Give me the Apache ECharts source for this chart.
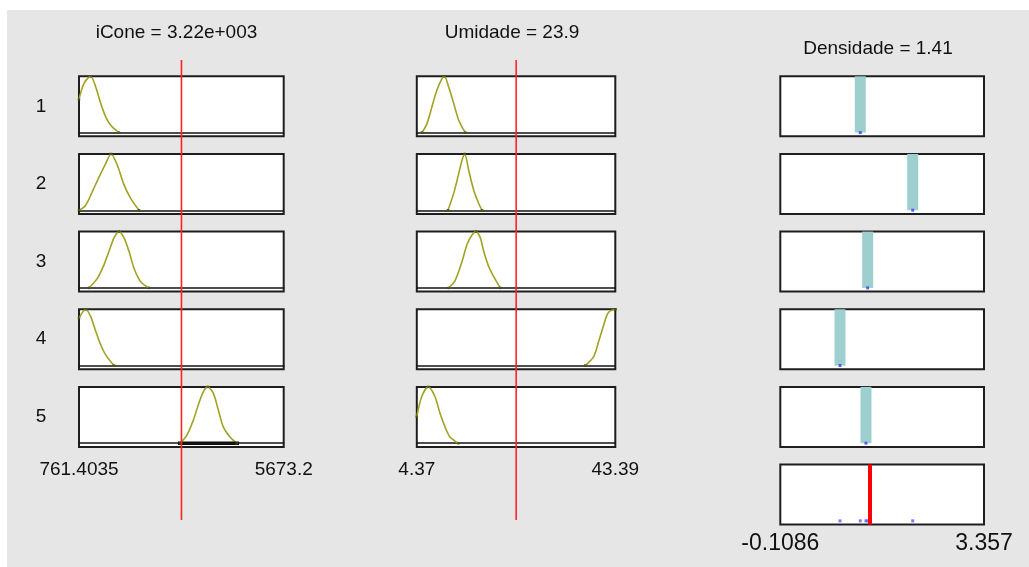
<!DOCTYPE html>
<html>
<head>
<meta charset="utf-8">
<script src="https://cdn.jsdelivr.net/npm/echarts@6/dist/echarts.min.js"></script>
<style>
  html, body { margin: 0; padding: 0; background: #ffffff; width: 1029px; height: 567px; overflow: hidden; }
  #panel { position: absolute; left: 7px; top: 10px; width: 1022px; height: 557px; background: #e6e6e6; }
  #chart { position: absolute; left: 0; top: 0; width: 1029px; height: 567px; }
</style>
</head>
<body>
<div id="panel"></div>
<div id="chart"></div>
<script>
// ---- Fuzzy inference system: inputs iCone, Umidade; output Densidade ----
const iConeRange = [761.4035, 5673.2];
const umidadeRange = [4.37, 43.39];
const densidadeRange = [-0.1086, 3.357];

const iConeTickLabels = ['761.4035', '5673.2'];
const umidadeTickLabels = ['4.37', '43.39'];
const densidadeTickLabels = ['-0.1086', '3.357'];

// current crisp values
const iConeInput = 3220;
const umidadeInput = 23.9;
const densidadeOutput = 1.41;

const iConeTitle = 'iCone = 3.22e+003';
const umidadeTitle = 'Umidade = 23.9';
const densidadeTitle = 'Densidade = 1.41';

const ruleNames = ['1', '2', '3', '4', '5'];

// membership curves of iCone for rules 1..5  ([x, degree])
const iConeRule1 = [[761.4, 0.59], [881, 0.875], [1042, 1.0], [1162, 0.81], [1282, 0.52], [1402, 0.28], [1522, 0.13], [1721, 0.0]];
const iConeRule2 = [[761.4, 0.0], [922, 0.09], [1081, 0.33], [1242, 0.59], [1402, 0.83], [1530, 1.0], [1681, 0.80], [1842, 0.45], [2002, 0.21], [2201, 0.0]];
const iConeRule3 = [[1001, 0.0], [1201, 0.17], [1361, 0.41], [1481, 0.65], [1601, 0.89], [1721, 1.0], [1841, 0.89], [1961, 0.65], [2081, 0.35], [2242, 0.11], [2441, 0.0]];
const iConeRule4 = [[761.4, 0.84], [922, 1.0], [1042, 0.87], [1162, 0.61], [1282, 0.37], [1402, 0.19], [1601, 0.0]];
const iConeRule5 = [[3185, 0.0], [3346, 0.14], [3505, 0.41], [3624, 0.68], [3744, 0.91], [3850, 1.0], [3984, 0.89], [4104, 0.59], [4224, 0.29], [4385, 0.11], [4546, 0.0]];
// support of the rule-5 iCone set that is active at the current input
const iConeRule5Fired = [3137, 4601];

// membership curves of Umidade for rules 1..5
const umidadeRule1 = [[5.39, 0.0], [6.37, 0.16], [7.35, 0.46], [8.33, 0.755], [9.31, 0.96], [9.78, 1.0], [10.64, 0.81], [11.62, 0.52], [12.61, 0.22], [13.90, 0.0]];
const umidadeRule2 = [[10.50, 0.0], [11.62, 0.30], [12.61, 0.65], [13.26, 0.89], [13.79, 1.0], [14.57, 0.71], [15.55, 0.36], [16.54, 0.12], [17.19, 0.0]];
const umidadeRule3 = [[10.64, 0.0], [11.94, 0.14], [13.26, 0.47], [14.24, 0.77], [15.22, 0.94], [16.00, 1.0], [16.85, 0.89], [17.52, 0.65], [18.50, 0.38], [19.49, 0.20], [20.78, 0.0]];
const umidadeRule4 = [[37.49, 0.0], [39.14, 0.16], [40.13, 0.43], [41.11, 0.72], [41.76, 0.90], [42.41, 0.97], [43.39, 1.0]];
const umidadeRule5 = [[4.37, 0.47], [5.33, 0.825], [6.63, 1.0], [7.95, 0.825], [8.93, 0.53], [9.91, 0.29], [10.90, 0.11], [12.53, 0.0]];

// singleton outputs of rules 1..5 and their heights
const densidadeRuleOut = [1.252, 2.144, 1.378, 0.907, 1.349];
const densidadeRuleHeight = [1, 1, 1, 1, 1];

const iConeCurves = [iConeRule1, iConeRule2, iConeRule3, iConeRule4, iConeRule5];
const umidadeCurves = [umidadeRule1, umidadeRule2, umidadeRule3, umidadeRule4, umidadeRule5];

// ---- layout ----
const FONT = "'Liberation Sans', Arial, sans-serif";
const rowTop0 = 76.3, rowStep = 77.65, boxH = 60;
const Y_MIN = -0.0657;           // leaves a thin strip below the zero line
const cols = [
  { left: 79, width: 204.7 },
  { left: 416.8, width: 198.5 },
  { left: 780.3, width: 203.7 }
];
const CURVE = '#a2a222';
const CURVE_DOT = '#4a4a08';
const BAR = '#9dcfcf';

const grids = [], xAxes = [], yAxes = [], series = [];

function addGrid(g) { grids.push(Object.assign({ outerBoundsMode: 'none', containLabel: false }, g)); return grids.length - 1; }

function boxGrid(col, row) {
  return addGrid({
    left: cols[col].left, width: cols[col].width,
    top: rowTop0 + row * rowStep, height: boxH,
    show: true, backgroundColor: '#ffffff', borderColor: '#1e1e1e', borderWidth: 2
  });
}

function rangeLabel(range, labels, size, margin) {
  return {
    show: true, showMinLabel: true, showMaxLabel: true, margin: margin,
    fontSize: size, fontFamily: FONT, color: '#111111',
    formatter: function (v) {
      const eps = (range[1] - range[0]) * 1e-9;
      if (Math.abs(v - range[0]) < eps) return labels[0];
      if (Math.abs(v - range[1]) < eps) return labels[1];
      return '';
    }
  };
}

function inputColumn(col, range, labels, curves) {
  curves.forEach(function (curve, r) {
    const gi = boxGrid(col, r);
    xAxes.push({
      gridIndex: gi, type: 'value', min: range[0], max: range[1],
      axisLine: { show: true, onZero: true, lineStyle: { color: '#151515', width: 1.5 } },
      axisTick: { show: false }, splitLine: { show: false },
      axisLabel: r === curves.length - 1 ? rangeLabel(range, labels, 19, 13) : { show: false }
    });
    yAxes.push({ gridIndex: gi, type: 'value', min: Y_MIN, max: 1, show: false, splitLine: { show: false } });
    const ai = xAxes.length - 1;
    series.push({
      type: 'line', xAxisIndex: ai, yAxisIndex: ai, data: curve,
      showSymbol: false, smooth: 0.3, silent: true,
      lineStyle: { color: CURVE, width: 1.6 }, z: 3
    });
    // defining points of the set: both ends and the peak
    let peak = curve[0];
    curve.forEach(function (p) { if (p[1] > peak[1]) peak = p; });
    series.push({
      type: 'scatter', xAxisIndex: ai, yAxisIndex: ai, silent: true,
      data: [curve[0], peak, curve[curve.length - 1]],
      symbol: 'rect', symbolSize: 2.5, itemStyle: { color: CURVE_DOT }, z: 4
    });
    if (col === 0 && r === 4) {
      series.push({
        type: 'line', xAxisIndex: ai, yAxisIndex: ai, silent: true, showSymbol: false,
        data: [[iConeRule5Fired[0], 0], [iConeRule5Fired[1], 0]],
        lineStyle: { color: '#111111', width: 3.5, cap: 'butt' }, z: 3
      });
    }
  });
}

inputColumn(0, iConeRange, iConeTickLabels, iConeCurves);
inputColumn(1, umidadeRange, umidadeTickLabels, umidadeCurves);

// output column: one box per rule plus the aggregated result
for (let r = 0; r <= densidadeRuleOut.length; r++) {
  const gi = boxGrid(2, r);
  const last = r === densidadeRuleOut.length;
  xAxes.push({
    gridIndex: gi, type: 'value', min: densidadeRange[0], max: densidadeRange[1],
    axisLine: { show: false, onZero: false }, axisTick: { show: false }, splitLine: { show: false },
    axisLabel: last ? rangeLabel(densidadeRange, densidadeTickLabels, 23, 8) : { show: false }
  });
  yAxes.push({ gridIndex: gi, type: 'value', min: Y_MIN, max: 1, show: false, splitLine: { show: false } });
  const ai = xAxes.length - 1;
  if (!last) {
    series.push({
      type: 'bar', xAxisIndex: ai, yAxisIndex: ai, silent: true,
      data: [[densidadeRuleOut[r], densidadeRuleHeight[r]]],
      barWidth: 11, itemStyle: { color: BAR }, z: 2
    });
    series.push({
      type: 'scatter', xAxisIndex: ai, yAxisIndex: ai, silent: true,
      data: [[densidadeRuleOut[r], 0]], symbol: 'rect', symbolSize: 3,
      itemStyle: { color: '#3b3bff' }, z: 4
    });
  } else {
    series.push({
      type: 'scatter', xAxisIndex: ai, yAxisIndex: ai, silent: true,
      data: densidadeRuleOut.map(function (v) { return [v, 0]; }),
      symbol: 'rect', symbolSize: 3, itemStyle: { color: '#5a5aff' }, z: 4,
      markLine: {
        silent: true, symbol: ['none', 'none'], label: { show: false },
        lineStyle: { color: '#ff0000', width: 4, type: 'solid' },
        data: [{ xAxis: densidadeOutput }]
      }
    });
  }
}

// red cursors across the input columns
[[0, iConeRange, iConeInput], [1, umidadeRange, umidadeInput]].forEach(function (c) {
  const gi = addGrid({ left: cols[c[0]].left, width: cols[c[0]].width, top: 60, height: 460, show: false });
  xAxes.push({ gridIndex: gi, type: 'value', min: c[1][0], max: c[1][1], show: false });
  yAxes.push({ gridIndex: gi, type: 'value', min: 0, max: 1, show: false });
  const ai = xAxes.length - 1;
  series.push({
    type: 'line', xAxisIndex: ai, yAxisIndex: ai, silent: true, showSymbol: false,
    data: [[c[2], 0], [c[2], 1]],
    lineStyle: { color: '#ff2424', width: 1.6 }, z: 6
  });
});

// texts: variable headings and rule numbers
const texts = [
  { text: iConeTitle, x: 176.5, y: 33 },
  { text: umidadeTitle, x: 512, y: 33 },
  { text: densidadeTitle, x: 878, y: 49 }
];
ruleNames.forEach(function (n, r) {
  texts.push({ text: n, x: 41, y: rowTop0 + r * rowStep + boxH / 2 });
});
const graphic = texts.map(function (t) {
  return {
    type: 'text', x: t.x, y: t.y, silent: true,
    style: {
      text: t.text, fontSize: 19, fontFamily: FONT, fill: '#111111', textFill: '#111111',
      textAlign: 'center', textVerticalAlign: 'middle'
    }
  };
});

const chart = echarts.init(document.getElementById('chart'), null, { renderer: 'canvas' });
chart.setOption({
  animation: false,
  backgroundColor: 'transparent',
  grid: grids,
  xAxis: xAxes,
  yAxis: yAxes,
  series: series,
  graphic: graphic
});
</script>
</body>
</html>
